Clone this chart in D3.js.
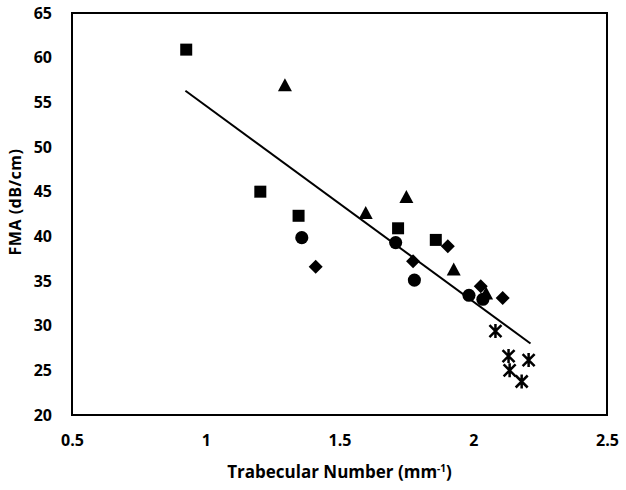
<!DOCTYPE html>
<html>
<head>
<meta charset="utf-8">
<script src="https://cdn.jsdelivr.net/npm/d3@7"></script>
<style>
  body { margin: 0; background: #fff; }
  text { font-family: "Open Sans", "Liberation Sans", sans-serif; font-weight: bold; fill: #000; }
</style>
</head>
<body>
<div id="chart"></div>
<script>
// groups of samples, each drawn with its own marker
var squareX = [0.927, 1.204, 1.347, 1.719, 1.860],
    squareY = [60.9, 45.0, 42.3, 40.9, 39.6];

var triangleX = [1.296, 1.598, 1.750, 1.927, 2.048],
    triangleY = [56.9, 42.6, 44.4, 36.3, 33.6];

var circleX = [1.359, 1.710, 1.780, 1.984, 2.036],
    circleY = [39.85, 39.3, 35.1, 33.4, 32.95];

var diamondX = [1.411, 1.775, 1.905, 2.028, 2.110],
    diamondY = [36.6, 37.2, 38.9, 34.4, 33.1];

var starX = [2.083, 2.132, 2.136, 2.207, 2.181],
    starY = [29.4, 26.6, 25.0, 26.15, 23.75];

// linear trend line, end points
var trendX = [0.924, 2.214],
    trendY = [56.3, 28.0];

var xTicks = [0.5, 1, 1.5, 2, 2.5],
    yTicks = [20, 25, 30, 35, 40, 45, 50, 55, 60, 65];

var margin = { top: 13, right: 19, bottom: 75, left: 72 };
var width = 626 - margin.left - margin.right,
    height = 490 - margin.top - margin.bottom;

var svg = d3.select("#chart").append("svg")
  .attr("width", 626)
  .attr("height", 490);

var g = svg.append("g")
  .attr("transform", "translate(" + margin.left + "," + margin.top + ")");

var x = d3.scaleLinear().domain([0.5, 2.5]).range([0, width]);
var y = d3.scaleLinear().domain([20, 65]).range([height, 0]);

function zip(xs, ys) {
  return xs.map(function (v, i) { return { x: v, y: ys[i] }; });
}

// frame
g.append("rect")
  .attr("x", 0)
  .attr("y", 0)
  .attr("width", width)
  .attr("height", height)
  .attr("fill", "none")
  .attr("stroke", "#000")
  .attr("stroke-width", 2);

// axes, labels only
var xAxis = g.append("g")
  .attr("transform", "translate(0," + height + ")")
  .call(d3.axisBottom(x).tickValues(xTicks).tickSize(0).tickPadding(20)
    .tickFormat(function (d) { return String(d); }));
xAxis.select(".domain").remove();
xAxis.selectAll("text").style("font-size", "16px");

var yAxis = g.append("g")
  .call(d3.axisLeft(y).tickValues(yTicks).tickSize(0).tickPadding(20));
yAxis.select(".domain").remove();
yAxis.selectAll("text").style("font-size", "16px");

// trend line
g.append("path")
  .datum(zip(trendX, trendY))
  .attr("fill", "none")
  .attr("stroke", "#000")
  .attr("stroke-width", 2)
  .attr("d", d3.line().x(function (d) { return x(d.x); }).y(function (d) { return y(d.y); }));

function drawMarks(data, pathStr, cls) {
  return g.selectAll("." + cls)
    .data(data)
    .enter().append("path")
    .attr("class", cls)
    .attr("transform", function (d) { return "translate(" + x(d.x) + "," + y(d.y) + ")"; })
    .attr("d", pathStr);
}

drawMarks(zip(squareX, squareY), "M-6,-6H6V6H-6Z", "sq").attr("fill", "#000");
drawMarks(zip(triangleX, triangleY), "M0,-7L7,6H-7Z", "tri").attr("fill", "#000");
drawMarks(zip(circleX, circleY), d3.symbol().type(d3.symbolCircle).size(135)(), "circ").attr("fill", "#000");
drawMarks(zip(diamondX, diamondY), "M0,-7L7,0L0,7L-7,0Z", "dia").attr("fill", "#000");

// asterisk markers
drawMarks(zip(starX, starY), "M-6,-6L6,6M-6,6L6,-6M0,-7L0,7", "star")
  .attr("stroke", "#000")
  .attr("stroke-width", 2.5)
  .attr("fill", "none");

// axis titles
var xt = svg.append("text")
  .attr("x", margin.left + width / 2)
  .attr("y", 478)
  .attr("text-anchor", "middle")
  .style("font-size", "17px");
xt.append("tspan").text("Trabecular Number (mm");
xt.append("tspan").attr("dy", -6).style("font-size", "10px").text("-1");
xt.append("tspan").attr("dy", 6).text(")");

svg.append("text")
  .attr("transform", "translate(21,202) rotate(-90)")
  .attr("text-anchor", "middle")
  .style("font-size", "16px")
  .style("letter-spacing", "0.5px")
  .text("FMA (dB/cm)");
</script>
</body>
</html>
